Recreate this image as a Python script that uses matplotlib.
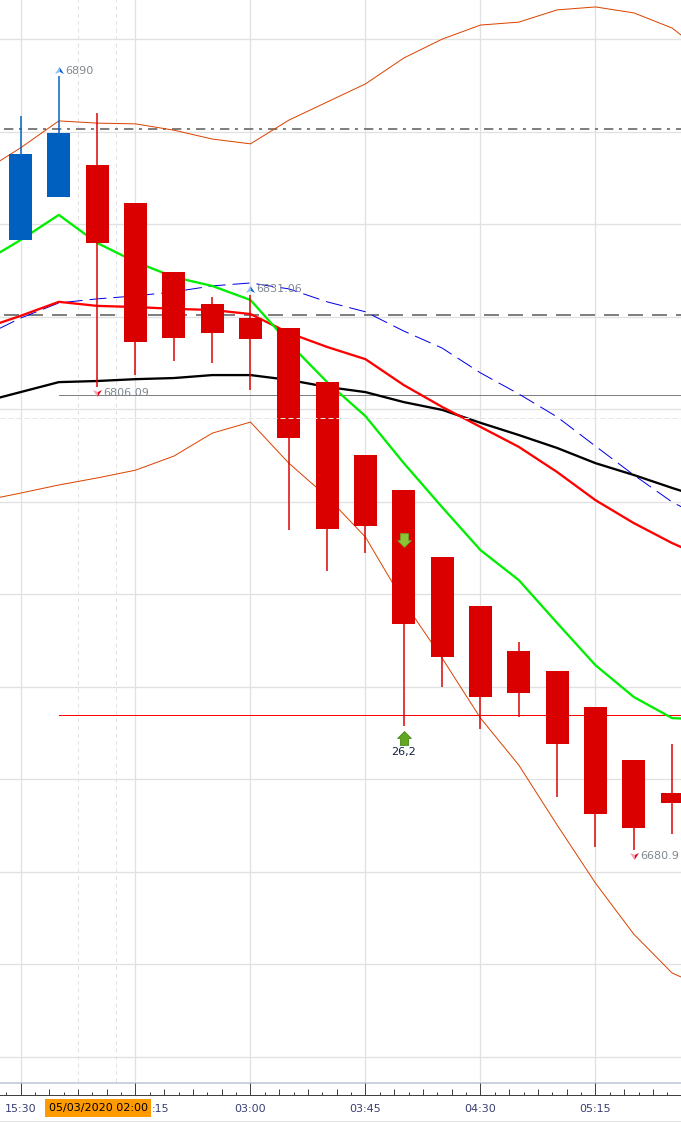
import matplotlib

matplotlib.use('Agg')
import matplotlib.pyplot as plt
from matplotlib.patches import Rectangle
from matplotlib.path import Path

# candle data, index 0 is the first candle on the left
candle_open = [6845.8, 6857.4, 6866.1, 6855.8, 6837.2, 6828.5, 6824.7, 6822.0, 6807.4,
               6787.7, 6778.2, 6760.1, 6746.9, 6734.7, 6729.3, 6719.6, 6705.3, 6696.4]
candle_close = [6869.1, 6874.7, 6845.0, 6818.2, 6819.3, 6820.7, 6819.1, 6792.3, 6767.7,
                6768.5, 6742.0, 6733.1, 6722.3, 6723.4, 6709.6, 6690.7, 6686.9, 6693.6]
candle_high = [6879.3, 6890.0, 6880.1, 6855.8, 6837.2, 6830.4, 6831.06, 6822.0, 6807.4,
               6787.7, 6778.2, 6760.1, 6746.9, 6737.2, 6729.3, 6719.6, 6705.3, 6709.6]
candle_low = [6845.8, 6857.4, 6806.09, 6809.3, 6813.1, 6812.6, 6805.3, 6767.4, 6756.4,
              6761.2, 6714.5, 6725.0, 6713.6, 6716.9, 6695.3, 6681.8, 6680.9, 6685.3]

# indicator lines, these run from index -1 to index 18
line_index = list(range(-1, 19))
upper_band = [6864.2, 6870.7, 6878.0, 6877.4, 6877.2, 6875.5, 6873.1, 6871.8, 6878.2, 6883.1,
              6888.0, 6895.0, 6900.1, 6903.9, 6904.7, 6908.0, 6908.8, 6907.2, 6903.1, 6895.0]
lower_band = [6775.3, 6777.4, 6779.6, 6781.5, 6783.6, 6787.4, 6793.6, 6796.6, 6785.5, 6776.4,
              6765.5, 6748.0, 6732.8, 6716.6, 6703.9, 6687.7, 6672.0, 6658.2, 6647.7, 6643.1]
green_avg = [6839.6, 6845.8, 6852.6, 6845.0, 6839.9, 6835.8, 6833.4, 6829.6, 6818.0, 6807.4,
             6798.2, 6785.5, 6773.6, 6762.0, 6753.9, 6742.3, 6730.9, 6722.3, 6716.6, 6716.1]
red_avg = [6821.8, 6825.3, 6829.1, 6828.0, 6827.7, 6827.2, 6826.9, 6825.8, 6820.7, 6816.9,
           6813.6, 6806.6, 6800.7, 6795.3, 6789.9, 6783.1, 6775.5, 6769.3, 6763.9, 6759.3]
black_avg = [6802.0, 6804.7, 6807.4, 6807.7, 6808.2, 6808.5, 6809.3, 6809.3, 6808.0, 6806.1,
             6804.7, 6802.0, 6799.9, 6796.4, 6793.1, 6789.6, 6785.5, 6782.3, 6778.8, 6775.5]
blue_avg = [6819.6, 6824.7, 6828.8, 6829.9, 6830.7, 6831.8, 6833.4, 6834.2, 6832.6, 6829.1,
            6826.4, 6821.2, 6816.6, 6809.9, 6804.2, 6798.0, 6790.1, 6782.3, 6775.0, 6769.6]

# horizontal levels
level_dashdot = 6875.8
level_dashed = 6825.5
level_grey = 6803.9
level_red = 6717.4
level_cross = 6797.7
price_grid = list(range(6625, 6901, 25))

# axis labels, the crosshair box hides the start of 02:15
time_labels = ['15:30', '03:00', '03:45', '04:30', '05:15']
time_index = [0, 6, 9, 12, 15]
grid_index = [0, 3, 6, 9, 12, 15]
cut_label = ':15'
cross_label = '05/03/2020 02:00'

# high / low notes on the chart
high_index = [1, 6]
high_price = [6890.0, 6831.06]
high_text = ['6890', '6831.06']
low_index = [2, 16]
low_price = [6806.09, 6680.9]
low_text = ['6806.09', '6680.9']

# signal arrows
signal_index = 10
signal_down = 6764.7
signal_up = 6711.2
signal_text = '26,2'

RED = '#da0000'
BLUE = '#0060c0'
GRID = '#e1e1e1'
px = 0.72  # one pixel in points at dpi 100

W, H = 681, 1122
AXIS_TOP = 1082
X0 = 20.5
STEP = 38.33

fig = plt.figure(figsize=(W / 100, H / 100), dpi=100)
fig.patch.set_facecolor('white')

ax = fig.add_axes([0, 1 - AXIS_TOP / H, 1, AXIS_TOP / H])
ax.set_xlim(-X0 / STEP, (W - X0) / STEP)
ax.set_ylim(6875 - 950 / 3.7, 6875 + 132 / 3.7)
for s in ax.spines.values():
    s.set_visible(False)
ax.set_xticks(grid_index)
ax.set_yticks(price_grid)
ax.tick_params(left=False, bottom=False, labelleft=False, labelbottom=False)
ax.grid(True, color=GRID, lw=1.3 * px)
ax.set_axisbelow(True)

# dashed session separators
for sep in [1.5, 2.5]:
    ax.axvline(sep, color='#e1e1e1', lw=1 * px, dashes=(4, 3.5), zorder=1)

# horizontal levels under the candles
ax.plot([-0.43, 18], [level_dashdot] * 2, color='#808080', lw=2 * px, dashes=(4.65, 2.85, 1.5, 3), zorder=2)
ax.plot([-0.43, 18], [level_dashed] * 2, color='#808080', lw=2 * px, dashes=(7.5, 4.5), zorder=2)
ax.plot([1, 18], [level_grey] * 2, color='#808080', lw=1 * px, zorder=2)
ax.plot([1, 18], [level_red] * 2, color='#ff0000', lw=1 * px, zorder=2)

# indicators
ax.plot(line_index, blue_avg, color='#0000e6', lw=1 * px, dashes=(17, 7), zorder=3)
ax.plot(line_index, upper_band, color='#dc4400', lw=1 * px, zorder=3)
ax.plot(line_index, lower_band, color='#dc4400', lw=1 * px, zorder=3)
ax.plot(line_index, black_avg, color='black', lw=2.3 * px, zorder=3)
ax.plot(line_index, red_avg, color='#ff0000', lw=2.3 * px, zorder=3)
ax.plot(line_index, green_avg, color='#00ee00', lw=2.3 * px, zorder=3)

# candles
for i in range(len(candle_open)):
    up = candle_close[i] > candle_open[i]
    col = BLUE if up else RED
    ax.vlines(i, candle_low[i], candle_high[i], color=col, lw=1.5 * px, zorder=4)
    ax.bar(i, abs(candle_close[i] - candle_open[i]), bottom=min(candle_open[i], candle_close[i]),
           width=0.6, color=col, linewidth=0, zorder=5)

# crosshair level goes over the candles
ax.axhline(level_cross, color='#e6e6e6', lw=1 * px, dashes=(5, 3), zorder=6)

# small tips, the path is offset so the tip floats off the end of the wick
tip_l = Path([(-4.5, 2.5), (0, 9.5), (0.5, 4.5), (-4.5, 2.5)])
tip_r = Path([(4.5, 2.5), (0, 9.5), (0.5, 4.5), (4.5, 2.5)])
low_l = Path([(-4.5, -2.5), (0, -9.5), (0.5, -4.5), (-4.5, -2.5)])
low_r = Path([(4.5, -2.5), (0, -9.5), (0.5, -4.5), (4.5, -2.5)])
tip_size = 19 * px

for i, p, t in zip(high_index, high_price, high_text):
    ax.plot(i, p, marker=tip_l, ms=tip_size, mec='none', mfc='#8fc0ef', zorder=7, ls='none')
    ax.plot(i, p, marker=tip_r, ms=tip_size, mec='none', mfc='#1060d0', zorder=7, ls='none')
    ax.annotate(t, (i, p), xytext=(4.3, 3.9), textcoords='offset points',
                fontsize=8, color='#808890', va='center', ha='left', zorder=7)

for i, p, t in zip(low_index, low_price, low_text):
    ax.plot(i, p, marker=low_l, ms=tip_size, mec='none', mfc='#f8a0a8', zorder=7, ls='none')
    ax.plot(i, p, marker=low_r, ms=tip_size, mec='none', mfc='#e00020', zorder=7, ls='none')
    ax.annotate(t, (i, p), xytext=(4.6, -4.0), textcoords='offset points',
                fontsize=8, color='#808890', va='center', ha='left', zorder=7)

# green signal arrows and the value under them
arrow_up = Path([(0, 1), (1, 0), (0.6, 0), (0.6, -1), (-0.6, -1), (-0.6, 0), (-1, 0), (0, 1)])
arrow_dn = Path([(0, -1), (1, 0), (0.6, 0), (0.6, 1), (-0.6, 1), (-0.6, 0), (-1, 0), (0, -1)])
ax.plot(signal_index, signal_down, marker=arrow_dn, ms=10, mfc='#8cc438', mec='#6a9e20', mew=0.5, zorder=7, ls='none')
ax.plot(signal_index, signal_up, marker=arrow_up, ms=10, mfc='#62a81e', mec='#3f7f10', mew=0.5, zorder=7, ls='none')
ax.annotate(signal_text, (signal_index, signal_up), xytext=(0, -9.7), textcoords='offset points',
            fontsize=8, color='#0f2040', va='center', ha='center', zorder=7)

# time axis band
band = fig.add_axes([0, 0, 1, (H - AXIS_TOP) / H])
band.set_xlim(ax.get_xlim())
band.set_ylim(H, AXIS_TOP)
band.axis('off')
band.axhline(AXIS_TOP + 0.7, color='#c9d2de', lw=2 * px)
band.axhline(1095, color='#404040', lw=1 * px)
band.axhline(1121, color='#e4e4e4', lw=1 * px)

n = -1
while n < 47:
    t = n * 3 / 8
    if n % 8 == 0:
        top = 1083
    elif n % 2 == 0:
        top = 1089
    else:
        top = 1092
    band.vlines(t, top, 1095, color='#404040', lw=1 * px)
    n += 1

for i, lab in zip(time_index, time_labels):
    band.text(i, 1109, lab, fontsize=8, color='#3a3f72', ha='center', va='center')
band.text((151.5 - X0) / STEP, 1109, cut_label, fontsize=8, color='#3a3f72', ha='left', va='center')

# crosshair date box
band.add_patch(Rectangle(((45 - X0) / STEP, 1099), 106 / STEP, 17.5, fc='#ff9a00', ec='none', zorder=4))
band.text((98 - X0) / STEP, 1108, cross_label, fontsize=8, color='black', ha='center', va='center', zorder=5)

plt.savefig('out.png', dpi=100)
plt.close()
